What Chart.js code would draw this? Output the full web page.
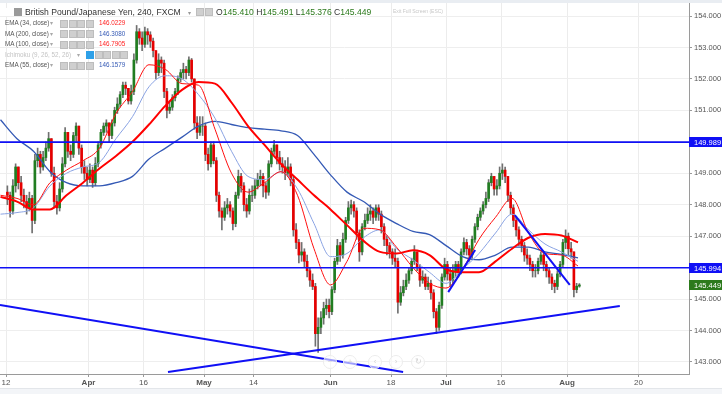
<!DOCTYPE html>
<html>
<head>
<meta charset="utf-8">
<script src="https://cdn.jsdelivr.net/npm/chart.js@4.4.1/dist/chart.umd.min.js"></script>
<style>
body { margin: 0; background: #fff; font-family: Arial, "Liberation Sans", sans-serif; }
#wrap { position: relative; width: 722px; height: 394px; overflow: hidden; background: #fff; }
#topband { position: absolute; left: 0; top: 0; width: 722px; height: 3px; background: #e9edf2; }
#botband { position: absolute; left: 0; top: 388px; width: 722px; height: 6px; background: #f3f5f8; border-top: 1px solid #e3e6ea; }
.abs { position: absolute; white-space: nowrap; pointer-events: none; }
.ttl { font-size: 8.6px; color: #333; }
.leg { font-size: 6.3px; color: #555; }
.ic { position: absolute; width: 6px; height: 6px; background: #cfcfcf; border: 1px solid #bdbdbd; }
.nav { position: absolute; width: 12px; height: 12px; border-radius: 7px; border: 1px solid #ececec; color: #d4d4d4; font-size: 8px; line-height: 12px; text-align: center; background: rgba(255,255,255,0.6); }
</style>
</head>
<body>
<div id="wrap">
  <canvas id="myChart" width="722" height="394"></canvas>
  <div id="topband"></div>
  <div id="botband"></div>
  <div id="overlay"></div>
</div>
<script>
// GBP/JPY 240 min, FXCM. One candle per half trading day, day 0 = Mar 12
const firstOpen = 148.4;
const closes = [
  148.3, 147.8, 148.6, 149.2, 148.7, 148.3, 148.1, 147.9, 148.2, 147.5,
  149.4, 149.6, 149.2, 149.5, 149.8, 150.1, 149.0, 148.1, 147.9, 148.5,
  149.3, 150.3, 149.7, 149.6, 150.2, 150.5, 149.8, 149.2, 149.0, 148.8,
  149.1, 148.7, 149.3, 149.9, 150.3, 150.5, 150.6, 150.2, 150.6, 151.0,
  151.2, 151.5, 151.8, 151.7, 151.3, 151.6, 152.6, 153.5, 153.3, 153.1,
  153.5, 153.4, 153.2, 152.9, 152.2, 152.6, 152.5, 151.6, 151.0, 151.1,
  151.4, 151.6, 152.0, 152.2, 152.3, 152.2, 152.6, 152.0, 150.6, 150.3,
  150.5, 150.5, 149.6, 149.3, 149.9, 149.4, 148.3, 147.8, 147.6, 147.9,
  148.0, 147.8, 147.4, 148.3, 148.9, 148.6, 148.0, 147.8, 148.3, 148.3,
  148.6, 148.8, 148.9, 148.6, 148.4, 149.3, 149.7, 149.9, 149.5, 149.3,
  149.2, 149.0, 149.2, 148.8, 147.2, 146.8, 146.4, 146.5, 146.2, 145.9,
  145.6, 145.4, 143.9, 144.1, 144.4, 144.7, 144.8, 144.6, 145.3, 146.2,
  146.7, 146.4, 146.9, 147.5, 147.9, 148.0, 147.8, 147.1, 146.5, 147.3,
  147.5, 147.7, 147.8, 147.6, 147.9, 147.7, 147.3, 146.9, 146.7, 146.5,
  146.3, 146.2, 144.9, 145.2, 145.4, 145.6, 145.9, 146.2, 146.5, 146.0,
  145.6, 145.7, 145.4, 145.5, 145.2, 144.6, 144.1, 144.8, 145.7, 146.1,
  145.8, 145.6, 145.9, 146.1, 145.9, 146.5, 146.8, 146.6, 146.4, 146.9,
  147.3, 147.6, 147.8, 148.0, 148.2, 148.7, 148.9, 148.5, 148.6, 149.0,
  149.1, 148.9, 148.3, 147.9, 147.5, 147.2, 146.9, 146.7, 146.4, 146.3,
  146.1, 145.9, 145.9, 146.2, 146.4, 146.1, 145.9, 145.7, 145.5, 145.4,
  145.8, 146.1, 146.8, 147.0, 146.6, 146.5, 145.3, 145.41, 145.449
];
const highs = [
  148.6, 148.4, 148.8, 149.3, 149.2, 148.9, 148.5, 148.3, 148.4, 148.3,
  149.6, 149.8, 149.7, 149.7, 150.0, 150.3, 150.1, 149.2, 148.3, 148.7,
  149.5, 150.45, 150.3, 149.9, 150.3, 150.6, 150.5, 149.9, 149.4, 149.2,
  149.3, 149.2, 149.5, 150.0, 150.4, 150.6, 150.7, 150.6, 150.7, 151.1,
  151.4, 151.6, 151.9, 151.9, 151.7, 151.8, 152.8, 153.7, 153.6, 153.5,
  153.65, 153.6, 153.5, 153.3, 152.9, 152.8, 152.7, 152.6, 151.7, 151.3,
  151.5, 151.7, 152.1, 152.3, 152.5, 152.4, 152.7, 152.65, 152.0, 150.8,
  150.8, 150.8, 150.6, 149.8, 150.0, 150.0, 149.5, 148.4, 147.9, 148.1,
  148.2, 148.1, 147.9, 148.4, 149.1, 149.0, 148.7, 148.2, 148.5, 148.6,
  148.8, 149.0, 149.1, 149.0, 148.7, 149.4, 149.8, 150.05, 149.9, 149.7,
  149.5, 149.4, 149.5, 149.3, 148.9, 147.4, 146.9, 146.8, 146.6, 146.4,
  146.0, 145.8, 145.5, 144.4, 144.6, 144.9, 145.0, 145.0, 145.4, 146.3,
  146.9, 146.8, 147.1, 147.6, 148.1, 148.15, 148.1, 147.9, 147.2, 147.4,
  147.7, 147.9, 148.0, 147.9, 148.0, 148.0, 147.8, 147.4, 147.0, 146.8,
  146.6, 146.6, 146.3, 145.4, 145.6, 145.8, 146.0, 146.3, 146.7, 146.5,
  146.1, 145.9, 145.8, 145.7, 145.6, 145.3, 144.7, 144.9, 145.8, 146.3,
  146.2, 146.0, 146.1, 146.2, 146.2, 146.6, 146.95, 146.9, 146.7, 147.0,
  147.4, 147.7, 147.9, 148.1, 148.4, 148.8, 149.0, 148.9, 148.8, 149.2,
  149.3, 149.2, 148.9, 148.4, 148.0, 147.6, 147.3, 147.0, 146.8, 146.6,
  146.4, 146.2, 146.1, 146.3, 146.5, 146.5, 146.2, 146.0, 145.8, 145.6,
  145.9, 146.2, 146.9, 147.2, 147.1, 146.8, 146.5, 145.5, 145.491
];
const lows = [
  148.0, 147.6, 147.7, 148.4, 148.5, 148.1, 147.9, 147.7, 147.8, 147.1,
  147.4, 149.2, 149.0, 149.1, 149.4, 149.7, 148.9, 147.9, 147.7, 147.8,
  148.4, 149.2, 149.5, 149.4, 149.5, 150.0, 149.6, 149.0, 148.8, 148.6,
  148.7, 148.55, 148.6, 149.2, 149.8, 150.2, 150.3, 150.0, 150.1, 150.5,
  150.9, 151.1, 151.4, 151.5, 151.2, 151.2, 151.5, 152.5, 153.1, 152.9,
  153.0, 153.1, 153.0, 152.7, 152.0, 152.1, 152.2, 151.4, 150.76, 150.9,
  151.0, 151.3, 151.5, 151.9, 152.0, 152.0, 152.1, 151.9, 150.4, 150.1,
  150.2, 150.2, 149.4, 149.1, 149.2, 149.3, 148.1, 147.6, 147.2, 147.5,
  147.7, 147.6, 147.2, 147.3, 148.2, 148.4, 147.8, 147.6, 147.7, 148.1,
  148.2, 148.5, 148.6, 148.25, 148.2, 148.3, 149.2, 149.6, 149.3, 149.1,
  149.0, 148.8, 148.9, 148.6, 147.0, 146.6, 146.15, 146.2, 146.0, 145.7,
  145.4, 145.3, 143.5, 143.3, 143.9, 144.2, 144.5, 144.4, 144.5, 145.2,
  146.1, 146.2, 146.3, 146.8, 147.4, 147.7, 147.6, 146.9, 146.2, 146.4,
  147.2, 147.4, 147.5, 147.4, 147.5, 147.5, 147.1, 146.7, 146.4, 146.3,
  146.1, 146.0, 144.55, 144.8, 145.1, 145.3, 145.5, 145.8, 146.1, 145.9,
  145.4, 145.5, 145.3, 145.3, 145.0, 144.4, 143.9, 144.0, 144.7, 145.6,
  145.6, 145.4, 145.5, 145.7, 145.7, 145.8, 146.4, 146.4, 146.2, 146.3,
  146.8, 147.2, 147.5, 147.7, 147.9, 148.1, 148.6, 148.3, 148.3, 148.5,
  148.8, 148.7, 148.1, 147.7, 147.3, 147.0, 146.7, 146.5, 146.2, 146.1,
  145.9, 145.7, 145.7, 145.8, 146.1, 145.9, 145.7, 145.5, 145.3, 145.2,
  145.3, 145.7, 146.0, 146.6, 146.4, 146.3, 145.07, 145.2, 145.376
];

// indicator readings every 3 trading days
const maDays = [-1, 2, 5, 8, 11, 14, 17, 20, 23, 26, 29, 32, 35, 38, 41, 44, 47, 50,
  53, 56, 59, 62, 65, 68, 71, 74, 77, 80, 83, 86, 89, 92, 95, 98, 101, 104];
const ema34 = [148.3, 148.2, 148.0, 148.7, 149.1, 149.4, 149.8, 150.9, 151.6, 152.45, 152.3, 151.85,
  151.8, 150.4, 149.0, 148.4, 148.7, 149.05, 148.3, 146.6, 145.45, 146.2, 147.25, 147.2,
  146.65, 146.0, 145.5, 145.35, 145.95, 146.9, 147.6, 148.2, 147.1, 146.45, 146.4, 146.05];
const ma200 = [150.7, 150.1, 149.7, 149.05, 148.7, 148.6, 148.6, 148.7, 148.9, 149.45, 149.8, 150.15,
  150.5, 150.65, 150.55, 150.45, 150.4, 150.35, 150.2, 149.6, 148.95, 148.4, 148.1, 147.7,
  147.4, 147.15, 147.05, 146.7, 146.35, 146.25, 146.4, 146.65, 146.65, 146.5, 146.42, 146.31];
const ma100 = [148.25, 148.1, 147.85, 147.85, 148.3, 148.7, 149.15, 149.55, 150.0, 150.55, 151.15, 151.65,
  151.9, 151.85, 151.25, 150.5, 149.9, 149.3, 148.8, 148.3, 147.85, 147.35, 146.85, 146.5,
  146.45, 146.55, 146.4, 145.95, 145.85, 145.85, 146.2, 146.6, 146.95, 147.07, 147.02, 146.8];
const ema55 = [147.7, 147.75, 147.9, 148.6, 149.0, 149.2, 149.35, 150.1, 150.8, 151.75, 152.1, 152.0,
  151.5, 150.75, 149.7, 148.9, 148.8, 149.05, 148.5, 147.4, 146.35, 146.45, 146.95, 147.2,
  146.6, 146.25, 145.85, 145.5, 145.95, 146.45, 147.1, 147.7, 147.2, 146.75, 146.5, 146.2];

const legendNames = ['EMA (34, close)', 'MA (200, close)', 'MA (100, close)', 'Ichimoku (9, 26, 52, 26)', 'EMA (55, close)'];
const legendValues = ['146.0229', '146.3080', '146.7905', '', '146.1579'];

const hLevels = [149.989, 145.994];
const lastPrice = 145.449;
const trendLines = [
  [[-1.1, 144.81], [72.2, 142.68]],
  [[29.45, 142.68], [111.6, 144.78]],
  [[80.4, 145.22], [85.3, 146.56]],
  [[92.5, 147.67], [102.5, 145.45]]
];

const tickDays = [0, 15, 25, 36, 45, 59, 70, 80, 90, 102, 115];
const tickLabels = ['12', 'Apr', '16', 'May', '14', 'Jun', '18', 'Jul', '16', 'Aug', '20'];
const priceTicks = [143, 144, 145, 146, 147, 148, 149, 150, 151, 152, 153, 154];

const UP = '#217d21';
const DOWN = '#e60000';
const FONT = 'Arial, "Liberation Sans", sans-serif';
Chart.defaults.font.family = FONT;

// candles
const wicks = [];
const bodies = [];
const bodyColors = [];
closes.forEach((c, k) => {
  const o = k === 0 ? firstOpen : closes[k - 1];
  const x = k / 2 + 0.25;
  wicks.push({ x: x, y: [lows[k], highs[k]] });
  bodies.push({ x: x, y: [o, c] });
  bodyColors.push(c >= o ? UP : DOWN);
});

const maLine = (vals) => maDays.map((d, i) => ({ x: d, y: vals[i] }));

const lineSets = [];
hLevels.forEach(v => {
  lineSets.push({
    type: 'line', data: [{ x: -2, y: v }, { x: 130, y: v }],
    borderColor: '#1010f5', borderWidth: 1.6, pointRadius: 0, order: 1
  });
});
trendLines.forEach(t => {
  lineSets.push({
    type: 'line', data: t.map(p => ({ x: p[0], y: p[1] })),
    borderColor: '#1010f5', borderWidth: 2, pointRadius: 0, order: 1
  });
});

const priceTags = {
  id: 'priceTags',
  afterDraw(chart) {
    const ctx = chart.ctx;
    const y = chart.scales.y;
    const tags = hLevels.map(v => [v, '#1010f5']).concat([[lastPrice, '#2c7a1c']]);
    ctx.save();
    tags.forEach(t => {
      const py = Math.round(y.getPixelForValue(t[0]));
      ctx.fillStyle = t[1];
      ctx.fillRect(y.left, py - 5, chart.width - y.left, 10);
      ctx.fillStyle = '#fff';
      ctx.font = '7.5px ' + FONT;
      ctx.textBaseline = 'middle';
      ctx.fillText(t[0].toFixed(3), y.left + 5, py + 0.5);
    });
    ctx.restore();
  }
};

const maStyle = { pointRadius: 0, cubicInterpolationMode: 'monotone' };

new Chart(document.getElementById('myChart'), {
  type: 'bar',
  data: {
    datasets: [
      { type: 'bar', data: wicks, backgroundColor: '#707070', barThickness: 1, grouped: false, order: 10 },
      { type: 'bar', data: bodies, backgroundColor: bodyColors, barThickness: 2, grouped: false, order: 9 },
      Object.assign({ type: 'line', data: maLine(ma200), borderColor: '#3459b5', borderWidth: 1.3, order: 5 }, maStyle),
      Object.assign({ type: 'line', data: maLine(ema55), borderColor: '#8aa3e3', borderWidth: 1, order: 4 }, maStyle),
      Object.assign({ type: 'line', data: maLine(ma100), borderColor: '#ff0000', borderWidth: 2, order: 3 }, maStyle),
      Object.assign({ type: 'line', data: maLine(ema34), borderColor: '#ff1010', borderWidth: 1, order: 2 }, maStyle)
    ].concat(lineSets)
  },
  options: {
    responsive: false,
    animation: false,
    devicePixelRatio: 1,
    layout: { padding: 0 },
    plugins: { legend: { display: false }, tooltip: { enabled: false } },
    scales: {
      x: {
        type: 'linear', min: -1.091, max: 124.18, offset: false,
        afterBuildTicks: s => { s.ticks = tickDays.map(v => ({ value: v })); },
        afterFit: s => { s.height = 20; s.paddingLeft = 0; s.paddingRight = 0; },
        ticks: {
          autoSkip: false, maxRotation: 0, padding: 1, color: '#555',
          font: c => ({ size: 8, weight: /^[A-Z]/.test(tickLabels[c.index] || '') ? 'bold' : 'normal' }),
          callback: (v, i) => tickLabels[i]
        },
        grid: { color: '#ececec', offset: false, tickLength: 3, tickColor: '#999' },
        border: { color: '#9a9a9a' }
      },
      y: {
        position: 'right', min: 142.617, max: 154.509,
        afterBuildTicks: s => { s.ticks = priceTicks.map(v => ({ value: v })); },
        afterFit: s => { s.width = 33; s.paddingTop = 0; s.paddingBottom = 0; },
        ticks: { color: '#555', font: { size: 7.5 }, padding: 2, callback: v => v.toFixed(3) },
        grid: { color: '#eeeeee', tickLength: 3, tickColor: '#999' },
        border: { color: '#9a9a9a' }
      }
    }
  },
  plugins: [priceTags]
});

// header and indicator legend
const overlay = document.getElementById('overlay');
function put(html, cls, left, top, style) {
  const el = document.createElement('div');
  el.className = 'abs ' + cls;
  el.style.left = left + 'px';
  el.style.top = top + 'px';
  if (style) el.style.cssText += style;
  el.innerHTML = html;
  overlay.appendChild(el);
  return el;
}
function icon(left, top, color) {
  const el = document.createElement('div');
  el.className = 'ic';
  el.style.left = left + 'px';
  el.style.top = top + 'px';
  if (color) { el.style.background = color; el.style.borderColor = color; }
  overlay.appendChild(el);
}
icon(1, 8, '#fff'); icon(14, 8, '#9a9a9a');
put('British Pound/Japanese Yen, 240, FXCM', 'ttl', 25, 6.5);
put('&#9662;', 'leg', 188, 9, 'color:#999');
icon(196, 8); icon(205, 8);
put('O<span style="color:#2c7a1c">145.410</span> H<span style="color:#2c7a1c">145.491</span> L<span style="color:#2c7a1c">145.376</span> C<span style="color:#2c7a1c">145.449</span>',
  'ttl', 216, 6.5);
put('Exit Full Screen (ESC)', 'leg', 393, 8, 'font-size:5px;color:#c8c8c8');

const legendColors = ['#ff2020', '#3459b5', '#ff2020', '#bbb', '#3459b5'];
const rowTops = [19, 29.5, 40, 50.5, 61];
legendNames.forEach((n, i) => {
  const grey = legendValues[i] === '';
  put(n, 'leg', 5, rowTops[i], grey ? 'color:#c4c4c4' : '');
  const ddx = grey ? 77 : 50;
  put('&#9662;', 'leg', ddx, rowTops[i], 'color:#aaa');
  const ix = grey ? 86 : 60;
  const n_ic = grey ? 5 : 4;
  for (let j = 0; j < n_ic; j++) icon(ix + j * 8.5, rowTops[i] + 0.5, grey && j === 0 ? '#2ea0e8' : null);
  if (!grey) put(legendValues[i], 'leg', 99, rowTops[i], 'color:' + legendColors[i]);
});

// faint navigation buttons
['&minus;', '+', '&lsaquo;', '&rsaquo;', '&#8635;'].forEach((g, i) => {
  const el = document.createElement('div');
  el.className = 'nav';
  el.style.left = [323, 343, 368, 389, 411][i] + 'px';
  el.style.top = '355px';
  el.innerHTML = g;
  overlay.appendChild(el);
});
</script>
</body>
</html>
